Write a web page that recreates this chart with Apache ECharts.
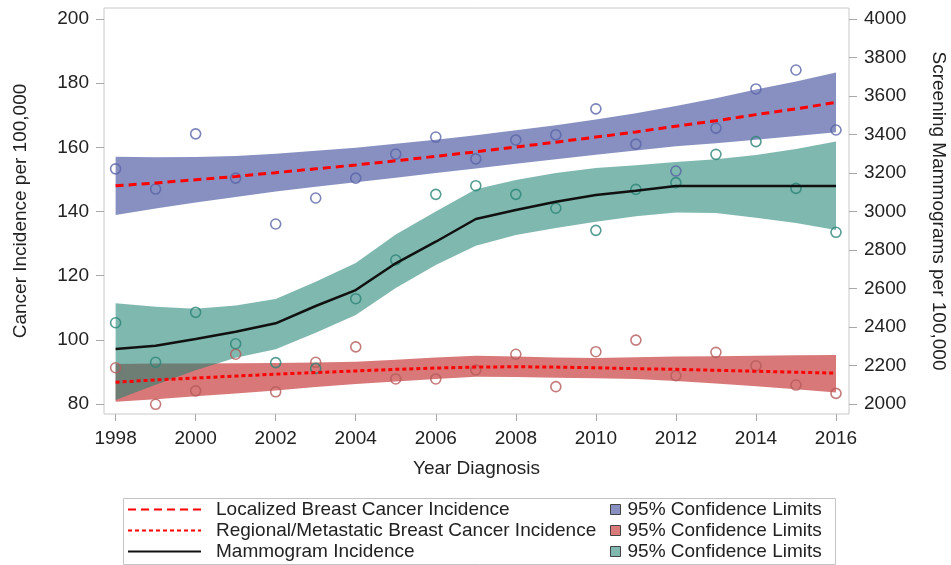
<!DOCTYPE html>
<html>
<head>
<meta charset="utf-8">
<script src="https://cdn.jsdelivr.net/npm/echarts@6/dist/echarts.min.js"></script>
<style>
  html, body { margin: 0; padding: 0; background: #fff; }
  #chart { width: 951px; height: 565px; }
</style>
</head>
<body>
<div id="chart"></div>
<script>
// years on the x axis
const years = [1998, 1999, 2000, 2001, 2002, 2003, 2004, 2005, 2006, 2007, 2008, 2009, 2010, 2011, 2012, 2013, 2014, 2015, 2016];
const xTicks = [1998, 2000, 2002, 2004, 2006, 2008, 2010, 2012, 2014, 2016];
const leftTicks = [80, 100, 120, 140, 160, 180, 200];
const rightTicks = [2000, 2200, 2400, 2600, 2800, 3000, 3200, 3400, 3600, 3800, 4000];

// localized breast cancer incidence (left axis)
const localizedObs = [153.3, 147.0, 164.2, 150.4, 136.1, 144.2, 150.4, 157.9, 163.2, 156.4, 162.3, 163.9, 172.0, 161.0, 152.6, 166.0, 178.2, 184.1, 165.4];
const localizedFit = [148.0, 148.9, 149.9, 150.9, 152.1, 153.3, 154.5, 155.8, 157.2, 158.6, 160.1, 161.6, 163.2, 164.8, 166.6, 168.3, 170.2, 172.0, 174.0];
const localizedLow = [138.9, 140.9, 142.8, 144.5, 146.2, 147.7, 149.1, 150.5, 152.0, 153.4, 154.9, 156.3, 157.7, 159.0, 160.3, 161.3, 162.4, 163.5, 164.7];
const localizedHigh = [157.1, 156.9, 157.0, 157.3, 158.0, 158.9, 159.9, 161.1, 162.4, 163.8, 165.3, 166.9, 168.7, 170.6, 172.9, 175.3, 178.0, 180.5, 183.3];

// regional/metastatic incidence (left axis)
const regionalObs = [91.3, 79.9, 84.1, 95.5, 83.8, 93.0, 97.8, 87.8, 87.8, 90.6, 95.5, 85.4, 96.3, 99.9, 88.8, 96.1, 91.9, 85.9, 83.3];
const regionalFit = [86.8, 87.5, 88.1, 88.7, 89.3, 89.8, 90.3, 90.8, 91.2, 91.5, 91.6, 91.5, 91.3, 91.0, 90.8, 90.5, 90.2, 89.9, 89.6];
const regionalLow = [80.7, 81.5, 82.4, 83.3, 84.2, 85.3, 86.2, 87.0, 87.8, 88.5, 88.4, 88.2, 88.0, 87.8, 87.2, 86.4, 85.5, 84.6, 83.6];
const regionalHigh = [92.5, 92.6, 92.6, 92.7, 92.8, 92.9, 93.2, 93.8, 94.5, 95.0, 94.8, 94.5, 94.3, 94.6, 94.8, 94.9, 95.0, 95.2, 95.3];

// screening mammograms (right axis)
const mammoObs = [2422, 2217, 2476, 2313, 2215, 2185, 2547, 2748, 3089, 3134, 3089, 3017, 2902, 3115, 3150, 3297, 3363, 3120, 2892];
const mammoFit = [2286, 2303, 2338, 2375, 2419, 2509, 2592, 2731, 2843, 2961, 3008, 3051, 3086, 3108, 3133, 3133, 3133, 3133, 3133];
const mammoLow = [2021, 2100, 2175, 2240, 2285, 2370, 2462, 2602, 2722, 2822, 2878, 2914, 2947, 2975, 2995, 2992, 2968, 2940, 2904];
const mammoHigh = [2523, 2505, 2495, 2512, 2545, 2635, 2732, 2880, 3000, 3115, 3164, 3200, 3226, 3240, 3257, 3271, 3294, 3325, 3363];

const FONT = "'Liberation Sans', Arial, sans-serif";
const FS = 19;

const pairs = (arr) => years.map((y, i) => [y, arr[i]]);

// confidence band drawn as one polygon through the axis scales
function band(name, lo, hi, fill, axis) {
  return {
    name: name, type: "custom", yAxisIndex: axis, silent: true, color: fill,
    data: years.map((y, i) => [y, lo[i], hi[i]]),
    encode: { x: 0, y: [1, 2] },
    renderItem: (params, api) => {
      if (params.dataIndex !== 0) return;
      const pts = [];
      years.forEach((y, i) => pts.push(api.coord([y, hi[i]])));
      for (let i = years.length - 1; i >= 0; i--) pts.push(api.coord([years[i], lo[i]]));
      return { type: "polygon", shape: { points: pts }, style: { fill: fill } };
    },
  };
}

function dots(name, arr, color, axis) {
  return {
    name: name, type: "scatter", yAxisIndex: axis,
    symbol: "circle", symbolSize: 10,
    itemStyle: { color: "rgba(0,0,0,0)", borderColor: color, borderWidth: 1.6 },
    data: pairs(arr),
  };
}

const chart = echarts.init(document.getElementById("chart"), null, { renderer: "canvas" });

const tickStyle = { color: "#a8a8a8", width: 1 };
const labelStyle = { color: "#222", fontSize: FS, fontFamily: FONT };
const nameStyle = { color: "#222", fontSize: FS, fontFamily: FONT };

const option = {
  animation: false,
  backgroundColor: "#fff",
  grid: {
    left: 104, right: 102, top: 8, bottom: 151,
    outerBoundsMode: "none", containLabel: false,
    show: true, borderColor: "#c8c8c8", borderWidth: 1,
  },
  xAxis: {
    type: "value", min: 1997.71, max: 2016.325,
    name: "Year Diagnosis", nameLocation: "middle", nameGap: 45,
    nameTextStyle: nameStyle,
    splitLine: { show: false },
    axisLine: { show: false },
    axisTick: { show: true, length: 7, lineStyle: tickStyle, customValues: xTicks },
    axisLabel: { ...labelStyle, margin: 15, customValues: xTicks, formatter: (v) => String(v) },
  },
  yAxis: [
    {
      type: "value", min: 76.88, max: 203.43, position: "left",
      name: "Cancer Incidence per 100,000", nameLocation: "middle", nameGap: 74,
      nameTextStyle: nameStyle,
      splitLine: { show: false },
      axisLine: { show: false },
      axisTick: { show: true, length: 8, lineStyle: tickStyle, customValues: leftTicks },
      axisLabel: { ...labelStyle, margin: 15, customValues: leftTicks, formatter: (v) => String(v) },
    },
    {
      type: "value", min: 1948.1, max: 4057.1, position: "right",
      name: "Screening Mammograms per 100,000", nameLocation: "middle", nameGap: 80, nameRotate: -90,
      nameTextStyle: nameStyle,
      splitLine: { show: false },
      axisLine: { show: false },
      axisTick: { show: true, length: 8, lineStyle: tickStyle, customValues: rightTicks },
      axisLabel: { ...labelStyle, margin: 15, customValues: rightTicks, formatter: (v) => String(v) },
    },
  ],
  legend: [
    {
      orient: "vertical", left: 127, top: 500, height: 64, padding: 0,
      itemWidth: 73, itemHeight: 14, itemGap: 2,
      itemStyle: { opacity: 0 },
      textStyle: { color: "#222", fontSize: FS, fontFamily: FONT, lineHeight: 14, padding: [0, 0, 0, 10] },
      data: ["Localized Breast Cancer Incidence", "Regional/Metastatic Breast Cancer Incidence", "Mammogram Incidence"],
    },
    {
      orient: "vertical", left: 610, top: 500, height: 64, padding: 0,
      icon: "rect", itemWidth: 10, itemHeight: 10, itemGap: 2,
      textStyle: { color: "#222", fontSize: FS, fontFamily: FONT, lineHeight: 14, padding: [0, 0, 0, 2] },
      formatter: () => "95% Confidence Limits",
      data: [
        { name: "ciBlue", itemStyle: { color: "#8790c0", borderColor: "#444", borderWidth: 1 } },
        { name: "ciRed", itemStyle: { color: "#d97b7b", borderColor: "#444", borderWidth: 1 } },
        { name: "ciGreen", itemStyle: { color: "#80b7af", borderColor: "#444", borderWidth: 1 } },
      ],
    },
  ],
  graphic: [
    {
      type: "rect", left: 121, top: 496, silent: true,
      shape: { width: 712, height: 66 },
      style: { fill: "none", stroke: "#c4c4c4", lineWidth: 1 },
    },
  ],
  series: [
    band("ciBlue", localizedLow, localizedHigh, "rgba(55,70,150,0.6)", 0),
    {
      name: "Localized Breast Cancer Incidence", type: "line", yAxisIndex: 0,
      symbol: "none", color: "#ff0000",
      lineStyle: { color: "#ff0000", width: 3, type: [8, 5] },
      data: pairs(localizedFit),
    },
    dots("localizedObs", localizedObs, "#5a64a8", 0),
    band("ciRed", regionalLow, regionalHigh, "rgba(190,30,30,0.6)", 0),
    {
      name: "Regional/Metastatic Breast Cancer Incidence", type: "line", yAxisIndex: 0,
      symbol: "none", color: "#ff0000",
      lineStyle: { color: "#ff0000", width: 3, type: [4, 3] },
      data: pairs(regionalFit),
    },
    dots("regionalObs", regionalObs, "#b55a5a", 0),
    band("ciGreen", mammoLow, mammoHigh, "rgba(30,130,115,0.57)", 1),
    {
      name: "Mammogram Incidence", type: "line", yAxisIndex: 1,
      symbol: "none", color: "#111",
      lineStyle: { color: "#111", width: 2.5 },
      data: pairs(mammoFit),
    },
    dots("mammoObs", mammoObs, "#2a8477", 1),
  ],
};

chart.setOption(option);
</script>
</body>
</html>
